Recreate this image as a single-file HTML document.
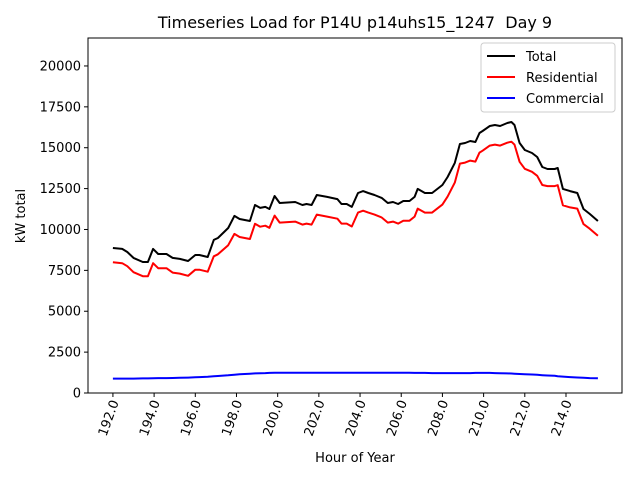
<!DOCTYPE html>
<html><head><meta charset="utf-8"><style>
html,body{margin:0;padding:0;background:#fff;}
svg{display:block;font-family:"DejaVu Sans","Liberation Sans",sans-serif;}
</style></head><body>
<svg id="chart" width="640" height="480" viewBox="0 0 640 480">
<rect x="0" y="0" width="640" height="480" fill="#fff"/>
<text x="355" y="28" font-size="16" text-anchor="middle" style="white-space:pre">Timeseries Load for P14U p14uhs15_1247&#160; Day 9</text>
<g id="plot"></g>
<text x="355" y="462" font-size="13" text-anchor="middle">Hour of Year</text>
<text transform="translate(25,216) rotate(-90)" font-size="13" text-anchor="middle">kW total</text>
<g>
<rect x="481" y="43" width="134" height="69" rx="3" fill="#fff" stroke="#ccc"/>
<line x1="487" y1="56" x2="515" y2="56" stroke="#000" stroke-width="2"/>
<text x="526" y="61" font-size="13">Total</text>
<line x1="487" y1="77" x2="515" y2="77" stroke="#f00" stroke-width="2"/>
<text x="526" y="82" font-size="13">Residential</text>
<line x1="487" y1="98" x2="515" y2="98" stroke="#00f" stroke-width="2"/>
<text x="526" y="103" font-size="13">Commercial</text>
</g>
</svg>
<script>
const hours=[192.0,192.45,192.7,193.0,193.45,193.7,193.95,194.2,194.6,194.9,195.25,195.65,196.0,196.2,196.6,196.9,197.1,197.6,197.9,198.15,198.65,198.9,199.15,199.4,199.6,199.85,200.1,200.85,201.2,201.4,201.65,201.9,202.4,202.9,203.1,203.35,203.6,203.9,204.15,204.4,204.7,205.05,205.35,205.6,205.85,206.1,206.4,206.65,206.8,207.15,207.5,208.0,208.25,208.6,208.85,209.1,209.35,209.6,209.8,209.95,210.3,210.55,210.8,211.15,211.35,211.5,211.75,212.0,212.35,212.6,212.85,213.1,213.45,213.6,213.85,214.2,214.55,214.85,215.15,215.55];
const total=[8870,8810,8625,8260,8010,8010,8810,8500,8500,8260,8200,8070,8440,8440,8320,9360,9480,10090,10830,10640,10520,11500,11320,11380,11250,12050,11620,11680,11500,11560,11500,12110,11990,11860,11560,11560,11380,12230,12350,12230,12110,11930,11620,11680,11560,11740,11740,11990,12480,12230,12230,12720,13210,14070,15230,15290,15410,15350,15900,16020,16330,16390,16330,16510,16570,16390,15290,14860,14680,14430,13820,13700,13700,13760,12480,12350,12230,11250,10950,10520];
const residential=[8000,7940,7755,7390,7140,7140,7940,7630,7630,7360,7300,7170,7540,7540,7420,8360,8480,9040,9730,9540,9420,10350,10170,10230,10100,10850,10420,10480,10300,10360,10300,10910,10790,10660,10360,10360,10180,11030,11150,11030,10910,10730,10420,10480,10360,10540,10540,10790,11280,11030,11030,11520,12010,12870,14030,14090,14210,14150,14700,14820,15130,15190,15130,15310,15370,15190,14140,13710,13530,13280,12720,12650,12650,12710,11480,11350,11280,10330,10050,9620];
const commercial=[880,880,880,880,890,890,900,910,910,920,930,940,960,970,990,1020,1040,1080,1120,1150,1180,1200,1210,1220,1230,1240,1240,1240,1240,1240,1240,1240,1240,1240,1240,1240,1240,1240,1240,1240,1240,1240,1240,1240,1240,1240,1240,1230,1230,1230,1220,1220,1220,1220,1220,1220,1220,1230,1230,1230,1230,1220,1210,1200,1190,1180,1160,1150,1130,1110,1090,1070,1050,1030,1000,970,950,930,910,900];
const yTicks=[0,2500,5000,7500,10000,12500,15000,17500,20000];
const xTicks=[192,194,196,198,200,202,204,206,208,210,212,214];

const L=88,R=622,T=38,B=393;
const xMin=190.79,xMax=216.72,yMin=0,yMax=21710;
function xs(v){return L+(v-xMin)/(xMax-xMin)*(R-L);}
function ys(v){return B-(v-yMin)/(yMax-yMin)*(B-T);}
const NS="http://www.w3.org/2000/svg";
const g=document.getElementById('plot');
function mk(tag,attrs){const e=document.createElementNS(NS,tag);for(const k in attrs)e.setAttribute(k,attrs[k]);g.appendChild(e);return e;}

const frame=mk('rect',{x:L,y:T,width:R-L,height:B-T,fill:'none',stroke:'#000','stroke-width':1});



yTicks.forEach(v=>{
  const y=ys(v);
  const t=mk('line',{x1:L-4,y1:y,x2:L,y2:y,stroke:'#000'});
  
  
  const lb=mk('text',{x:L-7,y:y+4.5,'font-size':13,'text-anchor':'end'});
  lb.textContent=v;
  
  
});
xTicks.forEach(v=>{
  const x=xs(v);
  const t=mk('line',{x1:x,y1:B,x2:x,y2:B+4,stroke:'#000'});
  
  
  const lb=mk('text',{transform:`translate(${x+6},${B+9}) rotate(-70)`,'font-size':13,'text-anchor':'end'});
  lb.textContent=v.toFixed(1);
  
  
});
function line(vals,color,name){
  const d=vals.map((v,i)=>(i?'L':'M')+xs(hours[i]).toFixed(1)+','+ys(v).toFixed(1)).join('');
  const p=mk('path',{d:d,fill:'none',stroke:color,'stroke-width':2,'stroke-linejoin':'round'});
  
  
}
line(commercial,'#00f','commercial-line');
line(residential,'#f00','residential-line');
line(total,'#000','total-line');
</script>
</body></html>
